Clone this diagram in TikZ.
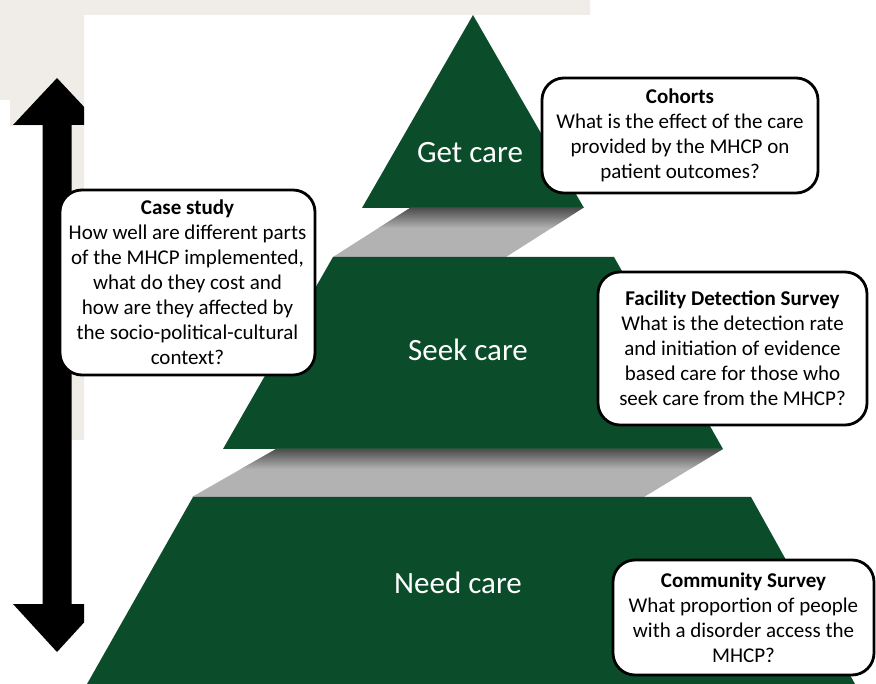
\documentclass[tikz,border=0pt]{standalone}
\usepackage{fontspec}
\setmainfont{Carlito}
\definecolor{pgreen}{RGB}{11,77,42}
\definecolor{beige}{RGB}{240,237,232}
\definecolor{bandgray}{RGB}{178,178,178}
\definecolor{banddark}{RGB}{72,72,72}
\begin{document}
\begin{tikzpicture}[x=1pt,y=-1pt,
  infobox/.style={draw=black, line width=2.8pt, fill=white, rounded corners=22pt, align=center,
    font=\fontsize{21}{25}\selectfont, inner sep=0pt},
  level/.style={text=white, font=\fontsize{31}{36}\selectfont, inner sep=0pt},
  tier/.style={fill=pgreen},
  bandfill/.style={fill=bandgray},
  bandshadow/.style={top color=banddark, bottom color=bandgray, draw=none}]
\useasboundingbox (0,0) rectangle (876,684);
\fill[white] (0,0) rectangle (876,684);
% beige background remnants
\fill[beige] (0,0) -- (590,0) -- (590,15) -- (84,15) -- (84,440) -- (43,440) -- (43,126) -- (10,126) -- (10,100) -- (0,100) -- cycle;
% pyramid
\fill[tier] (473,15) -- (584,208) -- (362,208) -- cycle;
\begin{scope}
  \clip (410,208) -- (583,208) -- (506,257) -- (333,257) -- cycle;
  \fill[bandfill] (300,205) rectangle (620,260);
  \shade[bandshadow] (300,207) rectangle (620,228);
\end{scope}
\fill[tier] (333,257) -- (614,257) -- (723,449) -- (223,449) -- cycle;
\begin{scope}
  \clip (276,449) -- (723,449) -- (644,497) -- (192,497) -- cycle;
  \fill[bandfill] (180,446) rectangle (740,500);
  \shade[bandshadow] (180,448) rectangle (740,469);
\end{scope}
\fill[tier] (193,497) -- (751,497) -- (855,684) -- (87,684) -- cycle;
% levels
\node[level] (get) at (470,153) {Get care};
\node[level] (seek) at (468,350) {Seek care};
\node[level] (need) at (458,583) {Need care};
% double arrow (clipped at the edge of its cropped panel)
\coordinate (arrtop) at (57,78);
\coordinate (arrbot) at (57,652);
\begin{scope}
  \clip (0,0) rectangle (84,684);
  \fill[black] (arrtop) -- ([xshift=44pt,yshift=-47pt]arrtop) -- ([xshift=14.5pt,yshift=-47pt]arrtop)
    -- ([xshift=14.5pt,yshift=48pt]arrbot) -- ([xshift=44pt,yshift=48pt]arrbot) -- (arrbot)
    -- ([xshift=-44pt,yshift=48pt]arrbot) -- ([xshift=-14.5pt,yshift=48pt]arrbot)
    -- ([xshift=-14.5pt,yshift=-47pt]arrtop) -- ([xshift=-44pt,yshift=-47pt]arrtop) -- cycle;
\end{scope}
% boxes
\node[infobox, minimum width=276pt, minimum height=115pt] (cohorts) at (680,135.5)
  {\textbf{Cohorts}\\What is the effect of the care\\provided by the MHCP on\\patient outcomes?};
\node[infobox, minimum width=255pt, minimum height=185pt] (case) at (187.5,282.5)
  {\textbf{Case study}\\How well are different parts\\of the MHCP implemented,\\what do they cost and\\how are they affected by\\the socio-political-cultural\\context?};
\node[infobox, minimum width=269pt, minimum height=153pt] (facility) at (732.5,348.5)
  {\textbf{Facility Detection Survey}\\What is the detection rate\\and initiation of evidence\\based care for those who\\seek care from the MHCP?};
\node[infobox, minimum width=261pt, minimum height=115pt] (community) at (743.5,617.5)
  {\textbf{Community Survey}\\What proportion of people\\with a disorder access the\\MHCP?};
\end{tikzpicture}
\end{document}
